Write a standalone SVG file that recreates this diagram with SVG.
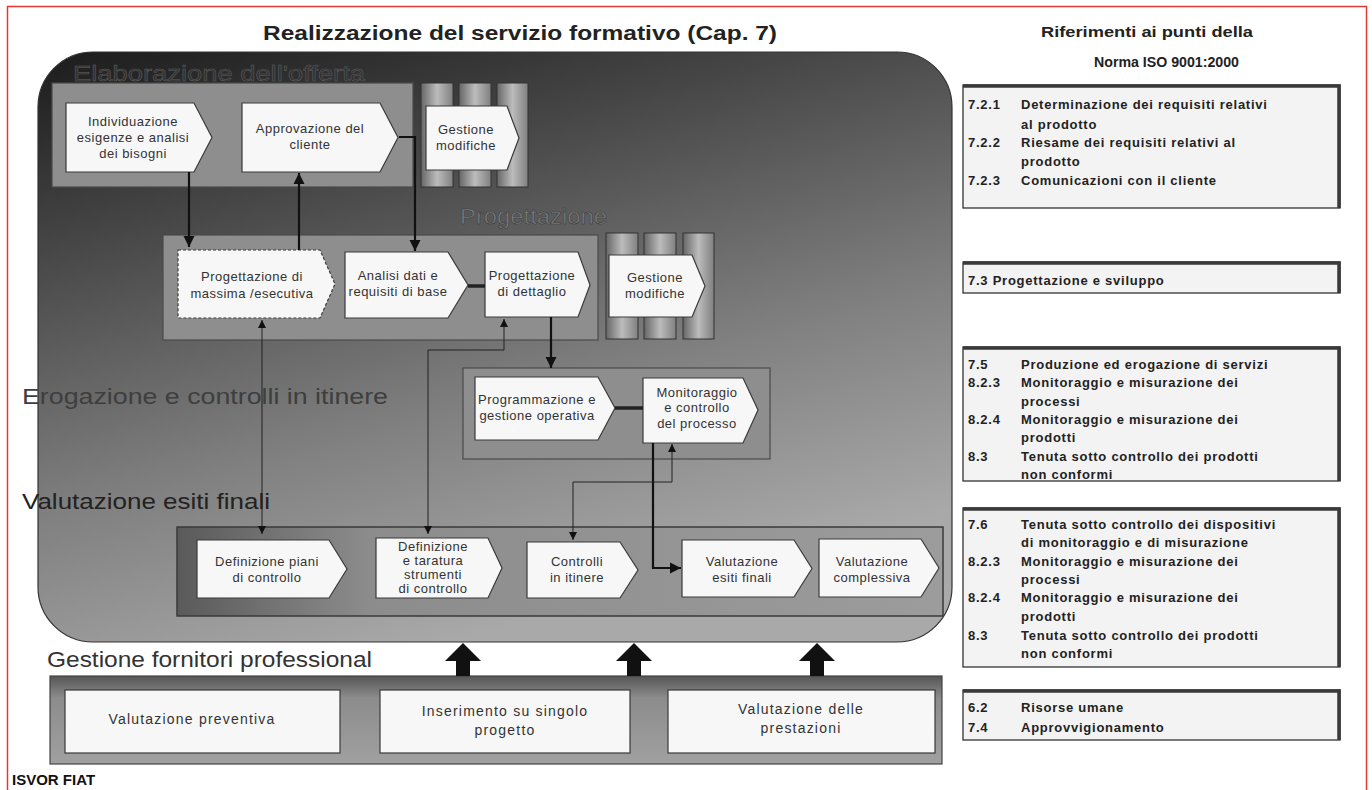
<svg xmlns="http://www.w3.org/2000/svg" width="1372" height="790" viewBox="0 0 1372 790">
<defs>
<linearGradient id="bg" x1="0.05" y1="0" x2="0.45" y2="1">
<stop offset="0" stop-color="#1e1e1e"/>
<stop offset="0.3" stop-color="#4a4a4a"/>
<stop offset="0.65" stop-color="#7e7e7e"/>
<stop offset="1" stop-color="#a9a9a9"/>
</linearGradient>
<linearGradient id="bar" x1="0" y1="0" x2="1" y2="0">
<stop offset="0" stop-color="#666"/>
<stop offset="0.5" stop-color="#bcbcbc"/>
<stop offset="1" stop-color="#808080"/>
</linearGradient>
<linearGradient id="valp" x1="0" y1="0" x2="1" y2="0">
<stop offset="0" stop-color="#5a5a5a"/>
<stop offset="0.25" stop-color="#8c8c8c"/>
<stop offset="1" stop-color="#9c9c9c"/>
</linearGradient>
<linearGradient id="botp" x1="0" y1="0" x2="0" y2="1">
<stop offset="0" stop-color="#555"/>
<stop offset="0.25" stop-color="#8c8c8c"/>
<stop offset="1" stop-color="#a0a0a0"/>
</linearGradient>
<marker id="ah" viewBox="0 0 10 10" refX="10" refY="5" markerWidth="11" markerHeight="13" markerUnits="userSpaceOnUse" orient="auto-start-reverse">
<path d="M0,0 L10,5 L0,10 z" fill="#111"/>
</marker>
<marker id="as" viewBox="0 0 10 10" refX="10" refY="5" markerWidth="8" markerHeight="9" markerUnits="userSpaceOnUse" orient="auto-start-reverse">
<path d="M0,0 L10,5 L0,10 z" fill="#111"/>
</marker>
<style>
.lbl{font-family:"Liberation Sans",Arial,sans-serif;font-size:22px;}
.bx{fill:#f7f7f7;stroke:#3a3a3a;stroke-width:1.2;}
.bt{font-family:"Liberation Sans",Arial,sans-serif;font-size:13px;letter-spacing:0.5px;fill:#333;text-anchor:middle;}
.bb{font-family:"Liberation Sans",Arial,sans-serif;font-size:14px;letter-spacing:1.2px;fill:#333;text-anchor:middle;}
.panel{fill:#8e8e8e;stroke:#4a4a4a;stroke-width:1.2;}
.barr{fill:url(#bar);stroke:#333;stroke-width:1;}
.thick{fill:none;stroke:#111;stroke-width:2.2;}
.thin{fill:none;stroke:#222;stroke-width:1;}
.ref{fill:#f3f3f3;stroke:#333;stroke-width:1.3;}
.refsh{fill:none;stroke:#3a3a3a;stroke-width:3.5;}
.rt{font-family:"Liberation Sans",Arial,sans-serif;font-size:13px;letter-spacing:0.75px;font-weight:bold;fill:#222;}
.hd{font-family:"Liberation Sans",Arial,sans-serif;font-size:14px;font-weight:bold;fill:#222;}
.bigarrow{fill:#111;}
</style>
</defs>

<rect x="7.5" y="6.5" width="1359" height="800" fill="#ffffff" stroke="#e53935" stroke-width="1.5"/>

<text x="263" y="40" font-family="Liberation Sans, Arial, sans-serif" font-size="20" font-weight="bold" fill="#222" textLength="514" lengthAdjust="spacingAndGlyphs">Realizzazione del servizio formativo (Cap. 7)</text>

<g id="main-frame">
<rect x="38" y="52" width="914" height="590" rx="55" ry="55" fill="url(#bg)" stroke="#333" stroke-width="1.2"/>
</g>

<g id="elaborazione">
<text class="lbl" x="73" y="81" fill="#303030" stroke="#5e5e5e" stroke-width="0.5" textLength="292" lengthAdjust="spacingAndGlyphs">Elaborazione dell'offerta</text>
<rect class="panel" x="52" y="83" width="361" height="104"/>
</g>
<g id="gestione-modifiche-1">
<rect class="barr" x="421" y="83" width="32" height="104"/>
<rect class="barr" x="459" y="83" width="32" height="104"/>
<rect class="barr" x="497" y="83" width="31" height="104"/>
<polygon class="bx" points="426,106 507,106 519,138 507,170 426,170"/>
<text class="bt" x="466" y="134">Gestione</text>
<text class="bt" x="466" y="150">modifiche</text>
</g>
<g id="individuazione">
<polygon class="bx" points="66,103 194,103 212,137.5 194,172 66,172"/>
<text class="bt" x="133" y="126">Individuazione</text>
<text class="bt" x="133" y="142">esigenze e analisi</text>
<text class="bt" x="133" y="158">dei bisogni</text>
</g>
<g id="approvazione">
<polygon class="bx" points="242,103 380,103 398,137.5 380,172 242,172"/>
<text class="bt" x="310" y="133">Approvazione del</text>
<text class="bt" x="310" y="149">cliente</text>
</g>

<g id="progettazione">
<text class="lbl" x="460" y="224" fill="#7a7a7a" stroke="#3a3a3a" stroke-width="0.5" textLength="147" lengthAdjust="spacingAndGlyphs">Progettazione</text>
<rect class="panel" x="163" y="235" width="435" height="105"/>
</g>
<g id="gestione-modifiche-2">
<rect class="barr" x="606" y="233" width="32" height="106"/>
<rect class="barr" x="644" y="233" width="32" height="106"/>
<rect class="barr" x="683" y="233" width="31" height="106"/>
<polygon class="bx" points="609,255 692,255 705,286 692,317 609,317"/>
<text class="bt" x="655" y="282">Gestione</text>
<text class="bt" x="655" y="298">modifiche</text>
</g>
<g id="massima">
<polygon class="bx" points="178,250 320,250 335,284 320,318 178,318" stroke-dasharray="3,2"/>
<text class="bt" x="252" y="281">Progettazione di</text>
<text class="bt" x="252" y="298">massima /esecutiva</text>
</g>
<g id="analisi">
<polygon class="bx" points="345,252 448,252 468,285 448,318 345,318"/>
<text class="bt" x="398" y="280">Analisi dati e</text>
<text class="bt" x="398" y="296">requisiti di base</text>
</g>
<g id="dettaglio">
<polygon class="bx" points="485,252 578,252 590,285 578,317 485,317"/>
<text class="bt" x="532" y="280">Progettazione</text>
<text class="bt" x="532" y="296">di dettaglio</text>
</g>

<g id="erogazione">
<text class="lbl" x="22" y="404" fill="#3e3e3e" textLength="366" lengthAdjust="spacingAndGlyphs">Erogazione e controlli in itinere</text>
<rect class="panel" x="463" y="368" width="307" height="91"/>
</g>
<g id="programmazione">
<polygon class="bx" points="475,377 598,377 615,408 598,440 475,440"/>
<text class="bt" x="537" y="404">Programmazione  e</text>
<text class="bt" x="537" y="420">gestione operativa</text>
</g>
<g id="monitoraggio">
<polygon class="bx" points="643,378 743,378 758,410 743,443 643,443"/>
<text class="bt" x="697" y="397">Monitoraggio</text>
<text class="bt" x="697" y="412">e controllo</text>
<text class="bt" x="697" y="428">del processo</text>
</g>

<g id="valutazione">
<text class="lbl" x="22" y="509" fill="#222" textLength="248" lengthAdjust="spacingAndGlyphs">Valutazione esiti finali</text>
<rect x="177" y="527" width="766" height="89" fill="url(#valp)" stroke="#3a3a3a" stroke-width="1.5"/>
</g>
<g id="definizione-piani">
<polygon class="bx" points="197,540 329,540 347,569 329,598 197,598"/>
<text class="bt" x="267" y="566">Definizione piani</text>
<text class="bt" x="267" y="582">di controllo</text>
</g>
<g id="definizione-taratura">
<polygon class="bx" points="376,538 488,538 502,568 488,598 376,598"/>
<text class="bt" x="433" y="551" font-size="11.5" letter-spacing="0.3">Definizione</text>
<text class="bt" x="433" y="565" font-size="11.5" letter-spacing="0.3">e  taratura</text>
<text class="bt" x="433" y="579" font-size="11.5" letter-spacing="0.3">strumenti</text>
<text class="bt" x="433" y="593" font-size="11.5" letter-spacing="0.3">di controllo</text>
</g>
<g id="controlli">
<polygon class="bx" points="527,542 620,542 638,570 620,598 527,598"/>
<text class="bt" x="577" y="566">Controlli</text>
<text class="bt" x="577" y="582">in itinere</text>
</g>
<g id="valutazione-esiti">
<polygon class="bx" points="682,540 794,540 812,568.5 794,597 682,597"/>
<text class="bt" x="742" y="566">Valutazione</text>
<text class="bt" x="742" y="582">esiti finali</text>
</g>
<g id="valutazione-complessiva">
<polygon class="bx" points="819,539 921,539 939,568 921,597 819,597"/>
<text class="bt" x="872" y="566">Valutazione</text>
<text class="bt" x="872" y="582">complessiva</text>
</g>

<g id="fornitori">
<text class="lbl" x="47" y="667" fill="#333" textLength="325" lengthAdjust="spacingAndGlyphs">Gestione fornitori professional</text>
<rect x="50" y="676" width="892" height="88" fill="url(#botp)" stroke="#444" stroke-width="1.2"/>
</g>
<g id="valutazione-preventiva">
<rect class="bx" x="65" y="690" width="275" height="63"/>
<text class="bb" x="192" y="724">Valutazione preventiva</text>
</g>
<g id="inserimento">
<rect class="bx" x="380" y="690" width="250" height="63"/>
<text class="bb" x="505" y="716">Inserimento su singolo</text>
<text class="bb" x="505" y="735">progetto</text>
</g>
<g id="valutazione-prestazioni">
<rect class="bx" x="668" y="690" width="267" height="63"/>
<text class="bb" x="801" y="714">Valutazione delle</text>
<text class="bb" x="801" y="733">prestazioni</text>
</g>

<g id="connectors">
<path class="thick" d="M189,172 V247" marker-end="url(#ah)"/>
<path class="thick" d="M299,250 V173" marker-end="url(#ah)"/>
<path class="thick" d="M399,137 H415 V251" marker-end="url(#ah)"/>
<path d="M468,286 H485" stroke="#222" stroke-width="3.5" fill="none"/>
<path class="thick" d="M551,317 V368" marker-end="url(#ah)"/>
<path d="M615,408 H643" stroke="#222" stroke-width="3.5" fill="none"/>
<path class="thick" d="M653,443 V568 H681" marker-end="url(#ah)"/>
<path class="thin" d="M262,320 V534" marker-start="url(#as)" marker-end="url(#as)"/>
<path class="thin" d="M504,319 V350 H428 V534" marker-start="url(#as)" marker-end="url(#as)"/>
<path class="thin" d="M672,444 V482 H573 V540" marker-start="url(#as)" marker-end="url(#as)"/>
<polygon class="bigarrow" points="463,643 481,661 470,661 470,676 456,676 456,661 445,661"/>
<polygon class="bigarrow" points="634,643 652,661 641,661 641,676 627,676 627,661 616,661"/>
<polygon class="bigarrow" points="817,643 835,661 824,661 824,676 810,676 810,661 799,661"/>
</g>

<g id="riferimenti-header">
<text class="hd" x="1041" y="37" textLength="212" lengthAdjust="spacingAndGlyphs">Riferimenti ai punti della</text>
<text class="hd" x="1094" y="67" textLength="145" lengthAdjust="spacingAndGlyphs">Norma ISO 9001:2000</text>
</g>
<g id="ref-72">
<rect class="ref" x="963" y="85" width="377" height="123"/>
<path class="refsh" d="M963,86 H1339 V208"/>
<text class="rt" x="968" y="109">7.2.1</text><text class="rt" x="1021" y="109">Determinazione dei requisiti relativi</text>
<text class="rt" x="1021" y="129">al prodotto</text>
<text class="rt" x="968" y="147">7.2.2</text><text class="rt" x="1021" y="147">Riesame dei requisiti relativi al</text>
<text class="rt" x="1021" y="166">prodotto</text>
<text class="rt" x="968" y="185">7.2.3</text><text class="rt" x="1021" y="185">Comunicazioni con il cliente</text>
</g>
<g id="ref-73">
<rect class="ref" x="963" y="262" width="377" height="31"/>
<path class="refsh" d="M963,263 H1339 V293"/>
<text class="rt" x="968" y="285">7.3 Progettazione e sviluppo</text>
</g>
<g id="ref-75">
<rect class="ref" x="963" y="347" width="377" height="134"/>
<path class="refsh" d="M963,348 H1339 V481"/>
<text class="rt" x="968" y="369">7.5</text><text class="rt" x="1021" y="369">Produzione ed erogazione di servizi</text>
<text class="rt" x="968" y="387">8.2.3</text><text class="rt" x="1021" y="387">Monitoraggio e misurazione dei</text>
<text class="rt" x="1021" y="406">processi</text>
<text class="rt" x="968" y="424">8.2.4</text><text class="rt" x="1021" y="424">Monitoraggio e misurazione dei</text>
<text class="rt" x="1021" y="442">prodotti</text>
<text class="rt" x="968" y="461">8.3</text><text class="rt" x="1021" y="461">Tenuta sotto controllo dei prodotti</text>
<text class="rt" x="1021" y="479">non conformi</text>
</g>
<g id="ref-76">
<rect class="ref" x="963" y="508" width="377" height="159"/>
<path class="refsh" d="M963,509 H1339 V667"/>
<text class="rt" x="968" y="529">7.6</text><text class="rt" x="1021" y="529">Tenuta sotto controllo dei dispositivi</text>
<text class="rt" x="1021" y="547">di monitoraggio e di misurazione</text>
<text class="rt" x="968" y="566">8.2.3</text><text class="rt" x="1021" y="566">Monitoraggio e misurazione dei</text>
<text class="rt" x="1021" y="584">processi</text>
<text class="rt" x="968" y="602">8.2.4</text><text class="rt" x="1021" y="602">Monitoraggio e misurazione dei</text>
<text class="rt" x="1021" y="621">prodotti</text>
<text class="rt" x="968" y="640">8.3</text><text class="rt" x="1021" y="640">Tenuta sotto controllo dei prodotti</text>
<text class="rt" x="1021" y="658">non conformi</text>
</g>
<g id="ref-62">
<rect class="ref" x="963" y="690" width="377" height="50"/>
<path class="refsh" d="M963,691 H1339 V740"/>
<text class="rt" x="968" y="712">6.2</text><text class="rt" x="1021" y="712">Risorse umane</text>
<text class="rt" x="968" y="732">7.4</text><text class="rt" x="1021" y="732">Approvvigionamento</text>
</g>

<text x="12" y="785" font-family="Liberation Sans, Arial, sans-serif" font-size="15" font-weight="bold" fill="#111">ISVOR FIAT</text>
</svg>
